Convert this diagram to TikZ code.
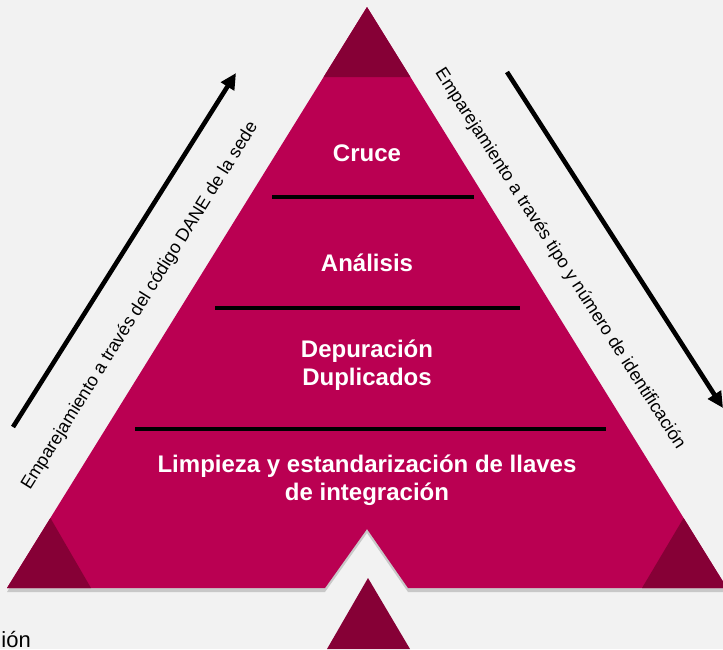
\documentclass[tikz,border=0pt]{standalone}
\usepackage{fontspec}
\setmainfont{Liberation Sans}
\usepackage{xcolor}
\usepackage{tikz}
\usetikzlibrary{arrows.meta,positioning,calc}
\definecolor{pybg}{RGB}{242,242,242}
\definecolor{pymag}{RGB}{186,0,82}
\definecolor{pydark}{RGB}{134,0,54}
\definecolor{pyshade}{RGB}{150,150,150}
\tikzset{
  layer/.style={font=\fontsize{24}{28}\selectfont\bfseries, text=white, align=center, inner sep=0pt},
  side/.style={font=\fontsize{18}{21}\selectfont, text=black, inner sep=0pt},
  corner/.style={fill=pydark, draw=none},
  sep/.style={draw=black, line width=4pt},
  arr/.style={-{Triangle[length=16pt,width=15pt]}, draw=black, line width=4.6pt},
  every picture/.append style={line join=miter}
}
\begin{document}
\begin{tikzpicture}[x=1pt,y=-1pt]
  \fill[pybg] (0,0) rectangle (723,649);
  \useasboundingbox (0,0) rectangle (723,649);
  \clip (0,0) rectangle (723,649);

  % pyramid with notch
  \fill[pyshade, opacity=0.45] (7,592) -- (367,11) -- (727,592) -- (408,592) -- (367,533) -- (325,592) -- cycle;
  \fill[pymag] (7,588) -- (367,7) -- (727,588) -- (408,588) -- (367,529) -- (325,588) -- cycle;
  \fill[corner] (367,7) -- (323.6,77) -- (410.4,77) -- cycle;
  \fill[corner] (7,588) -- (50.4,518) -- (91,588) -- cycle;
  \fill[corner] (727,588) -- (683.6,518) -- (642,588) -- cycle;
  \fill[corner] (368,578) -- (327,649) -- (410,649) -- cycle;

  % layers
  \node[layer] (cruce) at (367,153) {Cruce};
  \node[layer] (anal) at (367,263) {Análisis};
  \node[layer] (dep) at (367,365) {Depuración\\Duplicados};
  \node[layer] (limp) at (367,480) {Limpieza y estandarización de llaves\\de integración};

  \coordinate (s1a) at (272,197); \coordinate (s1b) at (474,197);
  \coordinate (s2a) at (215,308); \coordinate (s2b) at (520,308);
  \coordinate (s3a) at (135,429); \coordinate (s3b) at (606,429);
  \draw[sep] (s1a) -- (s1b);
  \draw[sep] (s2a) -- (s2b);
  \draw[sep] (s3a) -- (s3b);

  % side arrows
  \coordinate (la) at (13,427); \coordinate (lb) at (236,73);
  \coordinate (ra) at (507,72); \coordinate (rb) at (723,408);
  \draw[arr] (la) -- (lb);
  \draw[arr] (ra) -- (rb);
  \node[side, rotate=58] (dane) at (140,306) {Emparejamiento a través del código DANE de la sede};
  \node[side, rotate=-57.3] (ident) at (560,259) {Emparejamiento a través tipo y número de identificación};

  \node[side, font=\fontsize{22}{26}\selectfont, anchor=base east] (cut) at (31,647) {ión};
\end{tikzpicture}
\end{document}
